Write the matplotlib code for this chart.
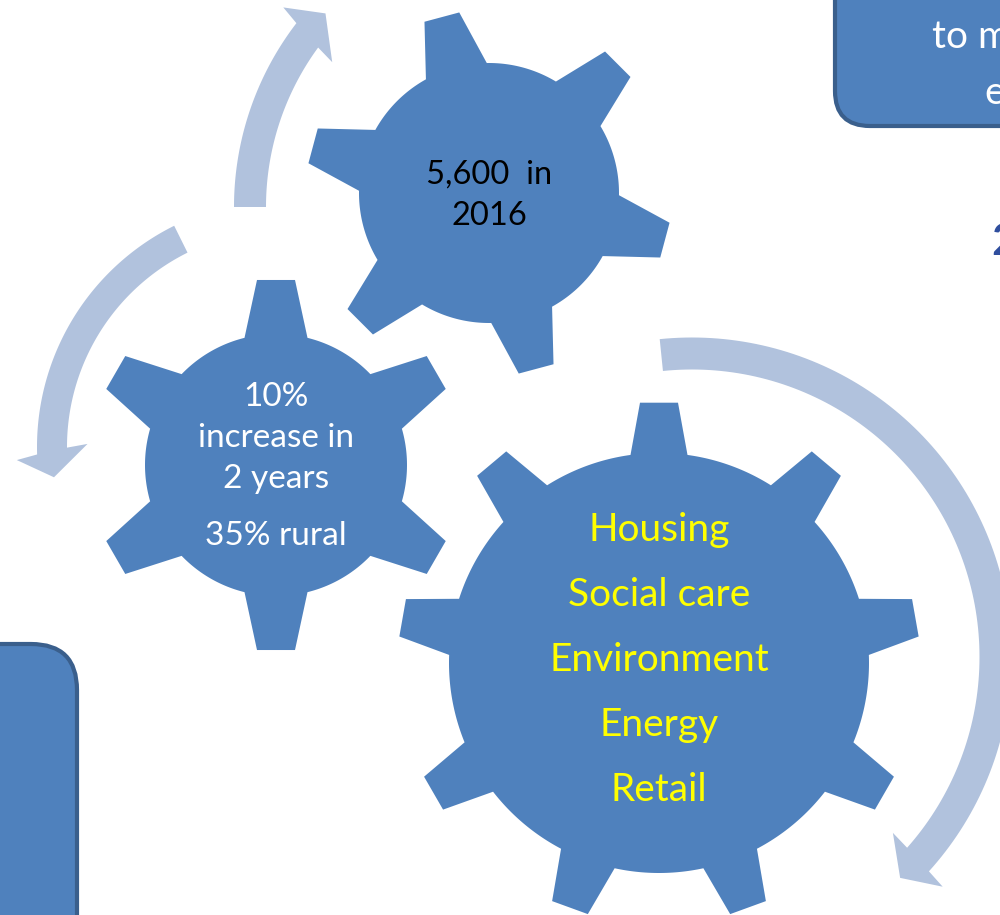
import numpy as np
import matplotlib
matplotlib.use("Agg")
import matplotlib.pyplot as plt
from matplotlib.patches import Polygon, FancyBboxPatch

# ---- content -------------------------------------------------------------
top_gear_lines = ["5,600  in", "2016"]
mid_gear_lines = ["10%", "increase in", "2 years", "35% rural"]
big_gear_lines = ["Housing", "Social care", "Environment", "Energy", "Retail"]
box_lines = ["to m", "e"]

GEAR = "#4F81BD"
ARROW = "#B1C2DD"
BOX_EDGE = "#3A5F8C"
FONT = ["Lato", "DejaVu Sans"]

fig = plt.figure(figsize=(10, 9.15), dpi=100)
ax = fig.add_axes([0, 0, 1, 1])
ax.set_xlim(0, 1000)
ax.set_ylim(915, 0)
ax.axis("off")


def P(cx, cy, r, a):
    t = np.deg2rad(a)
    return (cx + r * np.cos(t), cy - r * np.sin(t))


def gear(cx, cy, n, r_root, r_out, half_tip, half_base, first):
    pts = []
    step = 360.0 / n
    db = np.degrees(np.arcsin(half_base / r_root))
    rt = np.sqrt(r_out ** 2 - half_tip ** 2)
    angs = [first + k * step for k in range(n)]
    for a in angs:
        t = np.deg2rad(a)
        u = np.array([np.cos(t), -np.sin(t)])
        v = np.array([-np.sin(t), -np.cos(t)])
        c = np.array([cx, cy])
        pts.append(P(cx, cy, r_root, a - db))
        pts.append(tuple(c + rt * u - half_tip * v))
        pts.append(tuple(c + rt * u + half_tip * v))
        pts.append(P(cx, cy, r_root, a + db))
        a_next = a + step
        for aa in np.linspace(a + db, a_next - db, 30)[1:-1]:
            pts.append(P(cx, cy, r_root, aa))
    ax.add_patch(Polygon(pts, closed=True, facecolor=GEAR, edgecolor="none", zorder=3))


def arrow(cx, cy, r, w, hw, a0, a_in, a_out, a_tip):
    r_wi, r_wo = r - hw / 2, r + hw / 2

    def a_at(rr):
        return a_in + (a_out - a_in) * (rr - r_wi) / (r_wo - r_wi)

    ro, ri = r + w / 2, r - w / 2
    pts = [P(cx, cy, ro, a) for a in np.linspace(a0, a_at(ro), 120)]
    pts.append(P(cx, cy, r_wo, a_out))
    pts.append(P(cx, cy, r, a_tip))
    pts.append(P(cx, cy, r_wi, a_in))
    pts += [P(cx, cy, ri, a) for a in np.linspace(a_at(ri), a0, 120)]
    ax.add_patch(Polygon(pts, closed=True, facecolor=ARROW, edgecolor="none", zorder=2))


# arrows
arrow(536, 207, 286, 32, 72, 180.0, 144.6, 141.7, 137.4)
arrow(284, 447, 232, 30, 71, 116.4, 179.1, 182.8, 187.5)
arrow(692, 657, 303.5, 32, 73, 95.8, -41.2, -42.5, -46.7)

# gears
gear(489, 193, 6, 130, 183, 18, 31.5, 105)
gear(276, 465, 6, 131, 186, 19, 31.5, 90)
gear(659, 663, 9, 210, 261, 19, 28.5, 90)

# boxes
ax.add_patch(FancyBboxPatch((835, -120), 300, 246,
                            boxstyle="round,pad=0,rounding_size=35",
                            facecolor=GEAR, edgecolor=BOX_EDGE, linewidth=3.0, zorder=3))
ax.add_patch(FancyBboxPatch((-200, 644), 277, 400,
                            boxstyle="round,pad=0,rounding_size=46",
                            facecolor=GEAR, edgecolor=BOX_EDGE, linewidth=3.0, zorder=3))

# texts
for s, yb in zip(top_gear_lines, [184, 225]):
    ax.text(489, yb, s, color="black", fontsize=23.5, family=FONT,
            ha="center", va="baseline", zorder=5)
for s, yb in zip(mid_gear_lines, [406, 447, 488, 545]):
    ax.text(276, yb, s, color="white", fontsize=24, family=FONT,
            ha="center", va="baseline", zorder=5)
for s, yb in zip(big_gear_lines, [541, 606, 671, 736, 801]):
    ax.text(659, yb, s, color="#FFFF00", fontsize=28, family=FONT,
            ha="center", va="baseline", zorder=5)
for s, (xl, yb) in zip(box_lines, [(932, 48), (984, 104)]):
    ax.text(xl, yb, s, color="white", fontsize=28, family=FONT,
            ha="left", va="baseline", zorder=5, clip_on=True)

# partial dark-blue glyph at the right edge
ax.text(991, 255, "2", color="#2F4E9E", fontsize=32, fontweight="bold",
        family=FONT, ha="left", va="baseline", zorder=5, clip_on=True)

fig.savefig("out.png", dpi=100)
